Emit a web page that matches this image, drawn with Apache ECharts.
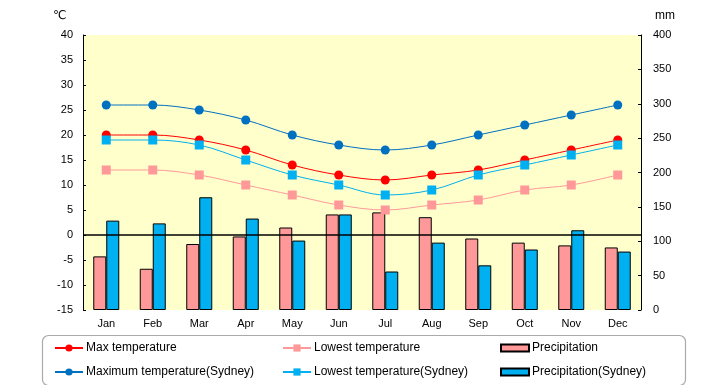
<!DOCTYPE html>
<html><head><meta charset="utf-8">
<script src="https://cdn.jsdelivr.net/npm/echarts@6/dist/echarts.min.js"></script>
<style>html,body{margin:0;padding:0;background:#fff}#c{width:720px;height:385px}</style>
</head><body><div id="c"></div>
<script>
const months = ['Jan','Feb','Mar','Apr','May','Jun','Jul','Aug','Sep','Oct','Nov','Dec'];
const maxTemp = [20,20,19,17,14,12,11,12,13,15,17,19];
const lowTemp = [13,13,12,10,8,6,5,6,7,9,10,12];
const precip = [78,60,96,107,120,139,142,135,104,98,94,91];
const maxTempSyd = [26,26,25,23,20,18,17,18,20,22,24,26];
const lowTempSyd = [19,19,18,15,12,10,8,9,12,14,16,18];
const precipSyd = [130,126,164,133,101,139,56,98,65,88,116,85];
const tempTicks = {min:-15,max:40,interval:5};
const mmTicks = {min:0,max:400,interval:50};

const font = 'Liberation Sans, DejaVu Sans, sans-serif';
const chart = echarts.init(document.getElementById('c'));
const legendText = {color:'#000',fontSize:12,fontFamily:font,padding:[0,0,0,-2],height:12,lineHeight:12};
const legBase = {orient:'vertical',top:342,padding:0,itemWidth:28,itemHeight:9,itemGap:12,textStyle:legendText,height:60};
chart.setOption({
  animation:false,
  textStyle:{fontFamily:font},
  grid:{left:83,right:79,top:35,bottom:75,show:true,backgroundColor:'#FFFFCC',borderWidth:0},
  xAxis:{type:'category',data:months,
    axisLine:{show:false},axisTick:{show:false},
    axisLabel:{color:'#000',fontSize:11,margin:8}},
  yAxis:[
    {type:'value',min:tempTicks.min,max:tempTicks.max,interval:tempTicks.interval,
     splitLine:{show:false},
     axisLine:{show:true,lineStyle:{color:'#000'}},
     axisTick:{show:true,inside:true,length:3,lineStyle:{color:'#000'}},
     axisLabel:{color:'#000',fontSize:11,margin:10}},
    {type:'value',min:mmTicks.min,max:mmTicks.max,interval:mmTicks.interval,
     splitLine:{show:false},
     axisLine:{show:true,lineStyle:{color:'#000'}},
     axisTick:{show:true,inside:true,length:3,lineStyle:{color:'#000'}},
     axisLabel:{color:'#000',fontSize:11,margin:12}}
  ],
  legend:[
    Object.assign({},legBase,{left:54,data:['Max temperature','Maximum temperature(Sydney)']}),
    Object.assign({},legBase,{left:282,data:['Lowest temperature','Lowest temperature(Sydney)']}),
    Object.assign({},legBase,{left:500,icon:'rect',itemHeight:7,data:['Precipitation','Precipitation(Sydney)']})
  ],
  graphic:[
    {type:'rect',left:40,top:333,shape:{width:643,height:50,r:6},style:{fill:'none',stroke:'#aaa',lineWidth:1.2},z:-1},
    {type:'text',left:53,top:10,style:{text:'℃',fontSize:12,fill:'#000',fontFamily:font}},
    {type:'text',left:655,top:10,style:{text:'mm',fontSize:12,fill:'#000',fontFamily:font}}
  ],
  series:[
    {name:'Precipitation',type:'bar',yAxisIndex:1,data:precip,barWidth:13,barGap:'0%',
     itemStyle:{color:'#FF9999',borderColor:'#000',borderWidth:1},z:1},
    {name:'Precipitation(Sydney)',type:'bar',yAxisIndex:1,data:precipSyd,barWidth:13,barGap:'0%',
     itemStyle:{color:'#00B0F0',borderColor:'#000',borderWidth:1},z:1},
    {name:'Max temperature',type:'line',yAxisIndex:0,data:maxTemp,smooth:0.35,symbol:'circle',symbolSize:9,
     lineStyle:{color:'#FF0000',width:1},itemStyle:{color:'#FF0000'},z:3,
     markLine:{silent:true,symbol:'none',label:{show:false},lineStyle:{color:'#000',width:1.5,type:'solid'},data:[{yAxis:0}]}},
    {name:'Lowest temperature',type:'line',yAxisIndex:0,data:lowTemp,smooth:0.35,symbol:'rect',symbolSize:9,
     lineStyle:{color:'#FF9999',width:1},itemStyle:{color:'#FF9999'},z:3},
    {name:'Maximum temperature(Sydney)',type:'line',yAxisIndex:0,data:maxTempSyd,smooth:0.35,symbol:'circle',symbolSize:9,
     lineStyle:{color:'#0070C0',width:1},itemStyle:{color:'#0070C0'},z:3},
    {name:'Lowest temperature(Sydney)',type:'line',yAxisIndex:0,data:lowTempSyd,smooth:0.35,symbol:'rect',symbolSize:9,
     lineStyle:{color:'#00B0F0',width:1},itemStyle:{color:'#00B0F0'},z:3}
  ]
});
</script></body></html>
